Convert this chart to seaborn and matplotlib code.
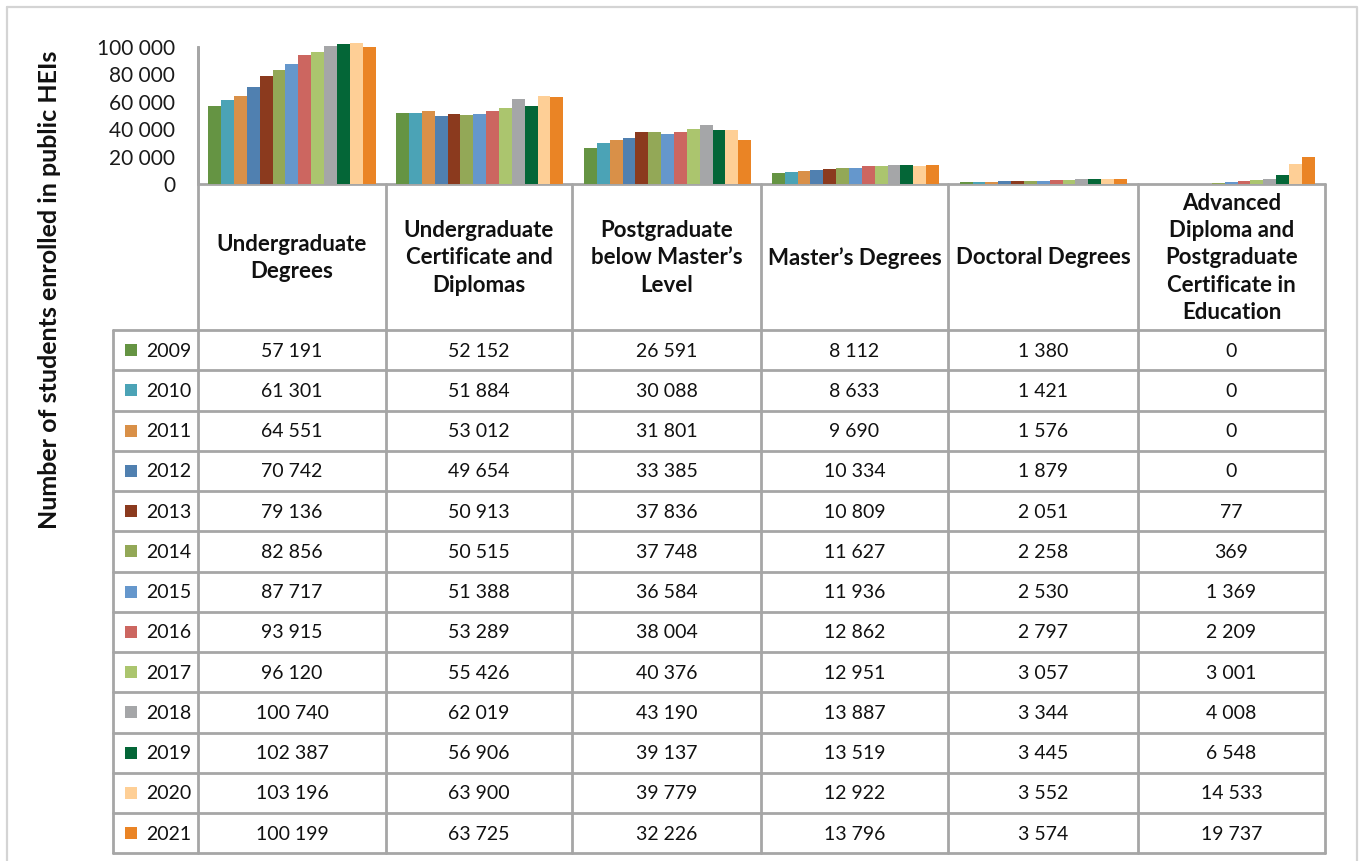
import matplotlib
matplotlib.use("Agg")
import matplotlib.pyplot as plt
import seaborn as sns
import pandas as pd

categories = ["Undergraduate\nDegrees",
              "Undergraduate\nCertificate and\nDiplomas",
              "Postgraduate\nbelow Master\u2019s\nLevel",
              "Master\u2019s Degrees",
              "Doctoral Degrees",
              "Advanced\nDiploma and\nPostgraduate\nCertificate in\nEducation"]
years = [2009, 2010, 2011, 2012, 2013, 2014, 2015, 2016, 2017, 2018, 2019, 2020, 2021]

undergrad_degrees = [57191, 61301, 64551, 70742, 79136, 82856, 87717, 93915, 96120, 100740, 102387, 103196, 100199]
undergrad_cert = [52152, 51884, 53012, 49654, 50913, 50515, 51388, 53289, 55426, 62019, 56906, 63900, 63725]
pg_below_masters = [26591, 30088, 31801, 33385, 37836, 37748, 36584, 38004, 40376, 43190, 39137, 39779, 32226]
masters = [8112, 8633, 9690, 10334, 10809, 11627, 11936, 12862, 12951, 13887, 13519, 12922, 13796]
doctoral = [1380, 1421, 1576, 1879, 2051, 2258, 2530, 2797, 3057, 3344, 3445, 3552, 3574]
adv_diploma = [0, 0, 0, 0, 77, 369, 1369, 2209, 3001, 4008, 6548, 14533, 19737]

year_colors = ["#659443", "#4BA3B6", "#D99048", "#5080B0", "#8B3A1E", "#93A857", "#6597CC",
               "#CC6660", "#ABC56E", "#A5A6A8", "#046637", "#FECF96", "#EA8425"]

series = [undergrad_degrees, undergrad_cert, pg_below_masters, masters, doctoral, adv_diploma]

rows = []
for cat, vals in zip(categories, series):
    for yr, v in zip(years, vals):
        rows.append({"category": cat, "year": str(yr), "students": v})
df = pd.DataFrame(rows)

sns.set_theme(style="white")
plt.rcParams["font.family"] = ["Lato", "DejaVu Sans"]

W, H = 1365, 861
fig = plt.figure(figsize=(W / 100, H / 100), dpi=100)

# pixel geometry of the chart / table
x_left, x_right = 198, 1325
y_base, y_top = 184, 47
col_edges = [198, 386, 572, 761, 948, 1138, 1325]
leg_left = 113
head_bottom = 330
row_h = 40.25
grid_c = "#A6A6A6"

ax = fig.add_axes([x_left / W, 1 - y_base / H, (x_right - x_left) / W, (y_base - y_top) / H])
tab = fig.add_axes([0, 0, 1, 1])
tab.set_xlim(0, W)
tab.set_ylim(H, 0)
tab.axis("off")
tab.set_zorder(0)
ax.set_zorder(1)
ax.patch.set_alpha(0)

sns.barplot(data=df, x="category", y="students", hue="year", palette=year_colors,
            width=0.89, gap=0, saturation=1, legend=False, ax=ax)
for p in ax.patches:
    p.set_clip_on(False)
    p.set_linewidth(0)

ax.set_xlim(-0.5, len(categories) - 0.5)
ax.set_ylim(0, 100000)
ax.set_yticks(range(0, 100001, 20000))
ax.set_yticklabels([f"{v:,}".replace(",", " ") for v in range(0, 100001, 20000)], fontsize=15)
ax.tick_params(axis="y", length=0, pad=16.5, colors="#1a1a1a")
ax.set_xticks([])
ax.set_xlabel("")
ax.set_ylabel("")
for s in ["top", "right", "bottom"]:
    ax.spines[s].set_visible(False)
ax.spines["left"].set_color(grid_c)
ax.spines["left"].set_linewidth(2)

# outer frame
tab.plot([7, 1357, 1357, 7, 7], [7, 7, 868, 868, 7], color="#D4D4D4", lw=1.6)

# y label
tab.text(50, 290, "Number of students enrolled in public HEIs", rotation=90,
         ha="center", va="center", fontsize=18, fontweight="bold", color="#111111")

# table grid
y_bottom = head_bottom + row_h * len(years)
tab.plot([x_left, x_right], [y_base, y_base], color=grid_c, lw=2)
for xe in col_edges:
    tab.plot([xe, xe], [y_base if xe != x_left else y_top, y_bottom], color=grid_c, lw=2)
tab.plot([leg_left, leg_left], [head_bottom, y_bottom], color=grid_c, lw=2)
for i in range(len(years) + 1):
    yy = head_bottom + row_h * i
    tab.plot([leg_left, x_right], [yy, yy], color=grid_c, lw=2)

# header labels
for j, cat in enumerate(categories):
    cx = (col_edges[j] + col_edges[j + 1]) / 2
    tab.text(cx, 258, cat, ha="center", va="center", fontsize=16, fontweight="bold",
             linespacing=1.38, color="#111111")

# rows
for i, yr in enumerate(years):
    cy = head_bottom + row_h * (i + 0.5)
    tab.add_patch(plt.Rectangle((125, cy - 6), 12, 12, color=year_colors[i], lw=0))
    tab.text(146, cy + 1, str(yr), ha="left", va="center", fontsize=14, color="#111111")
    for j, vals in enumerate(series):
        cx = (col_edges[j] + col_edges[j + 1]) / 2
        tab.text(cx, cy + 1, f"{vals[i]:,}".replace(",", " "), ha="center", va="center",
                 fontsize=14, color="#111111")

fig.savefig("out.png", dpi=100)
